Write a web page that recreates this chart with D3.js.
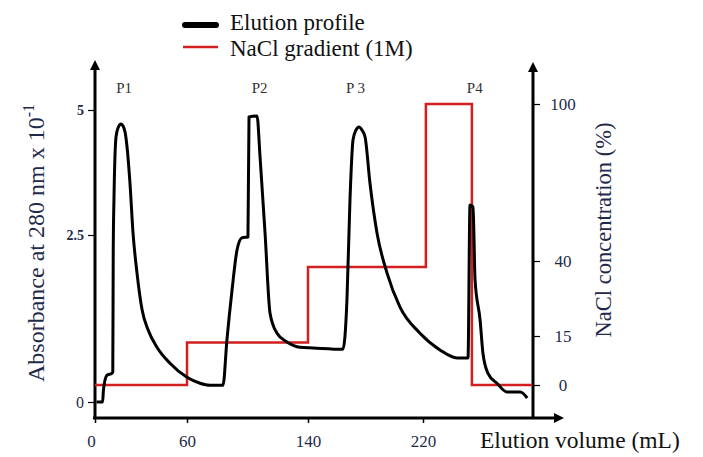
<!DOCTYPE html>
<html>
<head>
<meta charset="utf-8">
<script src="https://cdn.jsdelivr.net/npm/d3@7"></script>
<style>
  body { margin: 0; background: #fff; }
  svg { display: block; font-family: "Liberation Serif", "Times New Roman", serif; }
  svg text { font-family: "Liberation Serif", "Times New Roman", serif; }
</style>
</head>
<body>
<script>
// Elution profile (absorbance x 10^-1) vs elution volume (mL)
const volume = [1, 5, 5.5, 7.8, 11.1, 11.6, 11.9, 12.4, 13.7, 15, 17, 18.3, 19.6, 20.9, 22.8, 24.8, 27.4, 30.7, 34.6, 40.4, 48.9, 60, 68.6, 75.2,
    83.8, 86.4, 89.8, 93.1, 96.4, 100.3, 101, 106.3, 108.3, 111.6, 114.9, 119.5, 126.1, 134.7, 143.5, 164.3,
    167.1, 169.2, 171.3, 173.4, 175.5, 177.5, 179.7, 183.1, 188, 195, 204, 217.9, 231.8, 243.7, 251.3,
    252.7, 254.8, 256.2, 259.7, 261.7, 265.2, 271.5, 278.4, 287.7, 292.5];
const absorbance = [0, 0, 0.18, 0.4, 0.43, 0.45, 2.28, 3.26, 4.46, 4.64, 4.72, 4.68, 4.56, 4.26, 3.54, 2.54, 1.93, 1.38, 1.08, 0.82, 0.58, 0.37, 0.28, 0.25,
    0.25, 0.93, 1.68, 2.28, 2.46, 2.47, 4.86, 4.88, 4.06, 2.54, 1.33, 1.03, 0.9, 0.82, 0.81, 0.79,
    1.53, 3.2, 4.4, 4.6, 4.66, 4.6, 4.46, 3.54, 2.54, 1.93, 1.42, 1.03, 0.78, 0.66, 0.66,
    3.1, 3.06, 1.83, 1.23, 0.73, 0.43, 0.28, 0.15, 0.15, 0.06];

// NaCl step gradient (%)
const naclVolume = [0, 60, 140, 222, 254, 296];
const naclLevel = [0, 13, 38, 100, 0, 0];

// axis ticks
const xTicks = [0, 60, 140, 220];
const yLeftTicks = [0, 2.5, 5];
const yRightTicks = [0, 15, 40, 100];

const peaks = [
    { label: "P1", v: 19 },
    { label: "P2", v: 108 },
    { label: "P 3", v: 173 },
    { label: "P4", v: 256 }
];

const width = 703, height = 457;
const ink = "#1f2a4a";
const serif = '"Liberation Serif", "Times New Roman", serif';

const svg = d3.select("body").append("svg")
    .attr("width", width)
    .attr("height", height);

// the original axes are not evenly spaced, so use piecewise scales
const x = d3.scaleLinear().domain([0, 60, 140, 220]).range([95, 187, 308, 423]);
const yLeft = d3.scaleLinear().domain([0, 2.5, 5]).range([402, 235, 110]);
const yRight = d3.scaleLinear().domain([0, 15, 40, 100]).range([385, 336, 261, 104]);

// arrow head
svg.append("defs").append("marker")
    .attr("id", "arrow")
    .attr("viewBox", "0 0 10 10")
    .attr("refX", 2)
    .attr("refY", 5)
    .attr("markerUnits", "userSpaceOnUse")
    .attr("markerWidth", 12)
    .attr("markerHeight", 10)
    .attr("orient", "auto")
    .append("path")
    .attr("d", "M0,0 L10,5 L0,10 z")
    .attr("fill", "#000");

// axis lines with arrows
svg.append("line")
    .attr("x1", 95).attr("y1", 419).attr("x2", 95).attr("y2", 68)
    .attr("stroke", "#000").attr("stroke-width", 3)
    .attr("marker-end", "url(#arrow)");
svg.append("line")
    .attr("x1", 533).attr("y1", 419).attr("x2", 533).attr("y2", 70)
    .attr("stroke", "#000").attr("stroke-width", 3)
    .attr("marker-end", "url(#arrow)");
svg.append("line")
    .attr("x1", 93).attr("y1", 418).attr("x2", 556).attr("y2", 418)
    .attr("stroke", "#000").attr("stroke-width", 3)
    .attr("marker-end", "url(#arrow)");

// bottom axis
const gx = svg.append("g")
    .attr("transform", "translate(0,418)")
    .call(d3.axisBottom(x).tickValues(xTicks).tickSize(5).tickPadding(12).tickFormat(d3.format("d")));
gx.attr("font-family", serif).attr("font-size", 17);
gx.select(".domain").remove();
gx.selectAll("line").attr("stroke-width", 1.5);
gx.selectAll("text").attr("fill", ink);
gx.selectAll(".tick").filter(d => d === 0).select("text").attr("dx", -4);

// left axis
const gl = svg.append("g")
    .attr("transform", "translate(95,0)")
    .call(d3.axisLeft(yLeft).tickValues(yLeftTicks).tickSize(7).tickPadding(4).tickFormat(d => String(d)));
gl.attr("font-family", serif).attr("font-size", 14);
gl.select(".domain").remove();
gl.selectAll("line").attr("stroke-width", 1.2);
gl.selectAll("text")
    .attr("fill", ink)
    .attr("font-weight", d => d === 0 ? "normal" : "bold")
    .attr("font-size", d => d === 0 ? 16 : 14);

// right axis
const gr = svg.append("g")
    .attr("transform", "translate(533,0)")
    .call(d3.axisRight(yRight).tickValues(yRightTicks).tickSize(7).tickPadding(4).tickFormat(d3.format("d")));
gr.attr("font-family", serif).attr("font-size", 17);
gr.select(".domain").remove();
gr.selectAll("line").attr("stroke-width", 1.2);
gr.selectAll("text")
    .attr("fill", ink)
    .attr("x", 30)
    .attr("text-anchor", "middle");

// NaCl step line
const naclLine = d3.line()
    .x((d, i) => x(naclVolume[i]))
    .y(d => yRight(d))
    .curve(d3.curveStepAfter);
svg.append("path")
    .datum(naclLevel)
    .attr("d", naclLine)
    .attr("fill", "none")
    .attr("stroke", "#d21f1f")
    .attr("stroke-width", 2.5);

// elution profile
const elutionLine = d3.line()
    .x((d, i) => x(volume[i]))
    .y(d => yLeft(d))
    .curve(d3.curveMonotoneX);
svg.append("path")
    .datum(absorbance)
    .attr("d", elutionLine)
    .attr("fill", "none")
    .attr("stroke", "#000")
    .attr("stroke-width", 3)
    .attr("stroke-linejoin", "round");

// peak labels
svg.selectAll(".peak")
    .data(peaks)
    .enter()
    .append("text")
    .attr("class", "peak")
    .attr("x", d => x(d.v))
    .attr("y", 93)
    .attr("text-anchor", "middle")
    .attr("fill", "#333")
    .style("font-size", "15px")
    .text(d => d.label);

// axis titles
svg.append("text")
    .attr("transform", "translate(44,243) rotate(-90)")
    .attr("text-anchor", "middle")
    .attr("fill", ink)
    .style("font-size", "24px")
    .html('Absorbance at 280 nm x 10<tspan dy="-10" font-size="16px">-1</tspan>');

svg.append("text")
    .attr("transform", "translate(611,230) rotate(-90)")
    .attr("text-anchor", "middle")
    .attr("fill", ink)
    .style("font-size", "22.5px")
    .text("NaCl concentration (%)");

svg.append("text")
    .attr("x", 480)
    .attr("y", 448)
    .attr("fill", "#111")
    .style("font-size", "23.5px")
    .text("Elution volume (mL)");

// legend
const legend = svg.append("g");
legend.append("line")
    .attr("x1", 185).attr("x2", 216).attr("y1", 25).attr("y2", 25)
    .attr("stroke", "#000").attr("stroke-width", 6).attr("stroke-linecap", "round");
legend.append("line")
    .attr("x1", 183).attr("x2", 218).attr("y1", 47).attr("y2", 47)
    .attr("stroke", "#d21f1f").attr("stroke-width", 2.5);
legend.append("text")
    .attr("x", 230).attr("y", 30)
    .attr("fill", "#111")
    .style("font-size", "23px")
    .text("Elution profile");
legend.append("text")
    .attr("x", 230).attr("y", 56)
    .attr("fill", "#111")
    .style("font-size", "23px")
    .text("NaCl gradient (1M)");
</script>
</body>
</html>
